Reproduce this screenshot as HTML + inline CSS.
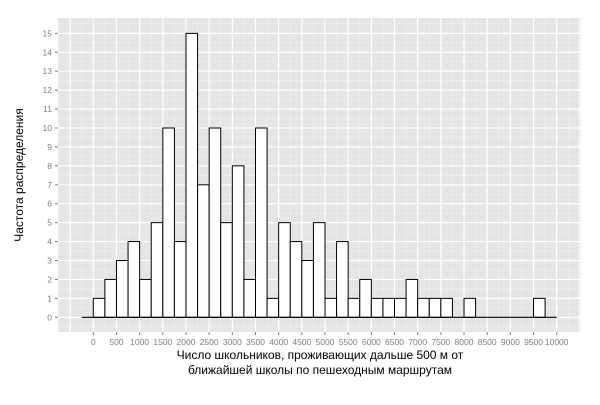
<!DOCTYPE html>
<html><head><meta charset="utf-8"><style>
body{margin:0;background:#fff;}
svg text{font-family:"Liberation Sans",sans-serif;}
</style></head><body>
<svg width="600" height="400" id="c">
</svg>
<script>
const binStarts=[-250,0,250,500,750,1000,1250,1500,1750,2000,2250,2500,2750,3000,3250,3500,3750,4000,4250,4500,4750,5000,5250,5500,5750,6000,6250,6500,6750,7000,7250,7500,7750,8000,8250,8500,8750,9000,9250,9500,9750];
const counts=[0,1,2,3,4,2,5,10,4,15,7,10,5,8,2,10,1,5,4,3,5,1,4,1,2,1,1,1,2,1,1,1,0,1,0,0,0,0,0,1,0];
const binWidth=250;
const xTicks=[0,500,1000,1500,2000,2500,3000,3500,4000,4500,5000,5500,6000,6500,7000,7500,8000,8500,9000,9500,10000];
const yTicks=[0,1,2,3,4,5,6,7,8,9,10,11,12,13,14,15];
const svg=document.getElementById('c');const NS='http://www.w3.org/2000/svg';
const L=58,R=581,T=18,B=332;
const x=v=>93.3+v*0.04634;const y=v=>317.3-v*18.93;
function el(t,a,p){const e=document.createElementNS(NS,t);for(const k in a)e.setAttribute(k,a[k]);(p||svg).appendChild(e);return e;}
const bg=el('rect',{x:L,y:T,width:R-L,height:B-T,fill:'#e5e5e5'});


for(let v=-750;v<=10500;v+=250){const major=v%500===0;if(x(v)<L||x(v)>R)continue;
 const g=el('line',{x1:x(v),x2:x(v),y1:T,y2:B,stroke:major?'#fff':'#f2f2f2','stroke-width':major?1.2:0.6});
 
 }
for(let v=-0.5;v<=15.5;v+=0.5){const major=v%1===0;
 const g=el('line',{x1:L,x2:R,y1:y(v),y2:y(v),stroke:major?'#fff':'#f2f2f2','stroke-width':major?1.2:0.6});
 
 }
binStarts.forEach((s,i)=>{
 if(counts[i]>0){const r=el('rect',{x:x(s),y:y(counts[i]),width:x(s+binWidth)-x(s),height:y(0)-y(counts[i]),fill:'#fff',stroke:'#000','stroke-width':1});
 
 }
});
const base=el('line',{x1:x(binStarts[0]),x2:x(binStarts[binStarts.length-1]+binWidth),y1:y(0),y2:y(0),stroke:'#000','stroke-width':1.2});


xTicks.forEach(v=>{el('line',{x1:x(v),x2:x(v),y1:B,y2:B+3,stroke:'#7f7f7f'});
 const t=el('text',{x:x(v),y:B+13,'text-anchor':'middle','font-size':8.5,fill:'#7f7f7f'});t.textContent=v;
 
 });
yTicks.forEach(v=>{el('line',{x1:L-3,x2:L,y1:y(v),y2:y(v),stroke:'#7f7f7f'});
 const t=el('text',{x:L-6,y:y(v)+3,'text-anchor':'end','font-size':8.5,fill:'#7f7f7f'});t.textContent=v;
 
 });
const xt=el('text',{x:320,y:359,'text-anchor':'middle','font-size':12,fill:'#000'});xt.textContent='Число школьников, проживающих дальше 500 м от';


const xt2=el('text',{x:320,y:374,'text-anchor':'middle','font-size':12,fill:'#000'});xt2.textContent='ближайшей школы по пешеходным маршрутам';


const yt=el('text',{x:0,y:0,'text-anchor':'middle','font-size':12,fill:'#000',transform:'translate(23,175) rotate(-90)'});yt.textContent='Частота распределения';


</script>
</body></html>
